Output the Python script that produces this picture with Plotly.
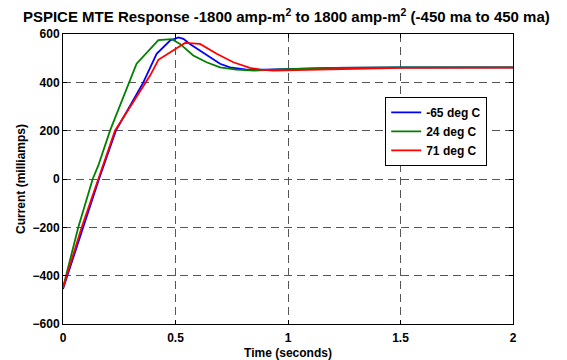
import plotly.graph_objects as go

# Data
t_blue = [0, 0.09, 0.16, 0.235, 0.357, 0.416, 0.476, 0.513, 0.535, 0.564, 0.609, 0.653, 0.698, 0.742, 0.816, 0.9, 1.0, 1.2, 1.5, 2.0]
i_blue = [-455, -200, 0, 200, 400, 518, 573, 586, 580, 559, 532, 504, 477, 462, 453, 452, 455, 460, 462, 462]

t_green = [0, 0.068, 0.132, 0.157, 0.209, 0.295, 0.327, 0.424, 0.483, 0.52, 0.579, 0.638, 0.698, 0.771, 0.85, 1.0, 1.2, 1.5, 2.0]
i_green = [-450, -200, 0, 56, 200, 400, 477, 575, 579, 559, 511, 483, 462, 453, 449, 455, 460, 462, 462]

t_red = [0, 0.083, 0.157, 0.231, 0.387, 0.424, 0.542, 0.609, 0.683, 0.757, 0.831, 0.876, 0.933, 1.0, 1.2, 1.5, 2.0]
i_red = [-450, -200, 0, 200, 428, 493, 563, 559, 518, 483, 460, 453, 449, 450, 455, 460, 461]

series_names = ["-65 deg C", "24 deg C", "71 deg C"]
colors = ["#0000FF", "#008000", "#FF0000"]

x_ticks = [0, 0.5, 1, 1.5, 2]
x_tick_labels = ["0", "0.5", "1", "1.5", "2"]
y_ticks = [-600, -400, -200, 0, 200, 400, 600]

font_family = "Liberation Sans, Arial, sans-serif"

fig = go.Figure()
for (tx, iy), name, c in zip([(t_blue, i_blue), (t_green, i_green), (t_red, i_red)], series_names, colors):
    fig.add_trace(go.Scatter(x=tx, y=iy, mode="lines", name=name,
                             line=dict(color=c, width=1.8)))

axis_common = dict(
    showline=True, linecolor="black", linewidth=1, mirror="ticks",
    ticks="inside", ticklen=4, tickcolor="black",
    showgrid=True, gridcolor="#555555", griddash="8px,5px", gridwidth=1,
    zeroline=False, automargin=False,
    tickfont=dict(family=font_family, size=12, color="black", weight="bold"),
)

fig.update_xaxes(range=[0, 2], tickvals=x_ticks, ticktext=x_tick_labels,
                 ticklabelstandoff=3,
                 title=dict(text="Time (seconds)", standoff=4,
                            font=dict(family=font_family, size=12, color="black", weight="bold")),
                 **axis_common)
fig.update_yaxes(range=[-600, 600], tickvals=y_ticks,
                 title=dict(text="Current (milliamps)", standoff=4,
                            font=dict(family=font_family, size=12, color="black", weight="bold")),
                 **axis_common)

fig.update_layout(
    width=567, height=360,
    margin=dict(l=63, r=54, t=34, b=36),
    paper_bgcolor="white", plot_bgcolor="white",
    title=dict(text="PSPICE MTE Response -1800 amp-m<sup>2</sup> to 1800 amp-m<sup>2</sup> (-450 ma to 450 ma)",
               x=0.505, xanchor="center", y=0.953, yanchor="middle",
               font=dict(family=font_family, size=15, color="black", weight="bold")),
    legend=dict(x=0.716, y=0.783, xanchor="left", yanchor="top",
                bordercolor="black", borderwidth=1, bgcolor="white",
                font=dict(family=font_family, size=12, color="black", weight="bold"),
                tracegroupgap=0),
    showlegend=True,
)

fig.write_html("out.html", config={"displayModeBar": False},
               post_script="document.body.style.margin='0px';")
